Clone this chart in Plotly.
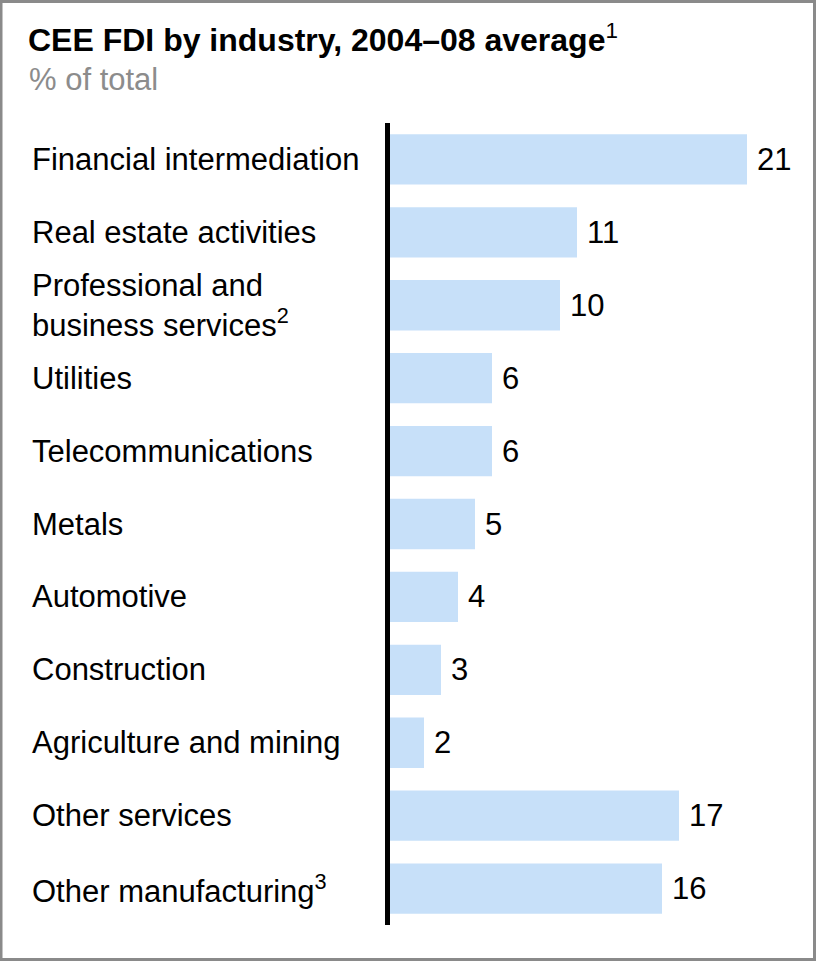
import plotly.graph_objects as go

# Industry shares of CEE foreign direct investment, 2004-08 average (% of total)
industries = [
    "Financial intermediation",
    "Real estate activities",
    "Professional and business services",
    "Utilities",
    "Telecommunications",
    "Metals",
    "Automotive",
    "Construction",
    "Agriculture and mining",
    "Other services",
    "Other manufacturing",
]
label_text = [
    "Financial intermediation",
    "Real estate activities",
    "Professional and<br>business services<sup>2</sup>",
    "Utilities",
    "Telecommunications",
    "Metals",
    "Automotive",
    "Construction",
    "Agriculture and mining",
    "Other services",
    "Other manufacturing<sup>3</sup>",
]
shares = [21, 11, 10, 6, 6, 5, 4, 3, 2, 17, 16]

W_FIG, H_FIG = 816, 961
L, R_M, T, B = 390, 26, 123, 36
PW = W_FIG - L - R_M
PH = H_FIG - T - B
FONT = "Arial, Liberation Sans, sans-serif"
FS = 31


def px_x(p):
    return (p - L) / PW


def px_y(p):
    return (H_FIG - B - p) / PH


fig = go.Figure(
    go.Bar(
        x=shares,
        y=industries,
        orientation="h",
        marker=dict(color="#C7E0F9", line=dict(width=0)),
        hoverinfo="skip",
    )
)

annotations = []
# category labels, left aligned
for name, txt in zip(industries, label_text):
    annotations.append(dict(
        x=px_x(30), xref="paper", y=name, yref="y",
        text=txt, showarrow=False, xanchor="left", yanchor="middle",
        align="left", font=dict(family=FONT, size=FS, color="#000000"),
    ))
# value labels at the bar ends
for name, v in zip(industries, shares):
    annotations.append(dict(
        x=v, xref="x", y=name, yref="y", text=str(v), showarrow=False,
        xanchor="left", yanchor="middle", xshift=8,
        font=dict(family=FONT, size=FS, color="#000000"),
    ))
# title and unit line
annotations.append(dict(
    x=px_x(26), xref="paper", y=px_y(38), yref="paper",
    text="<b>CEE FDI by industry, 2004–08 average</b><sup>1</sup>",
    showarrow=False, xanchor="left", yanchor="middle",
    font=dict(family=FONT, size=32, color="#000000"),
))
annotations.append(dict(
    x=px_x(27), xref="paper", y=px_y(79), yref="paper",
    text="% of total", showarrow=False, xanchor="left", yanchor="middle",
    font=dict(family=FONT, size=FS, color="#8C8C8C"),
))

fig.update_layout(
    width=W_FIG, height=H_FIG,
    margin=dict(l=L, r=R_M, t=T, b=B, pad=0),
    paper_bgcolor="white", plot_bgcolor="white",
    showlegend=False, bargap=0.31,
    xaxis=dict(visible=False, range=[0, PW / 17.0], fixedrange=True),
    yaxis=dict(
        categoryorder="array", categoryarray=industries,
        range=[len(industries) - 0.5, -0.5],
        showticklabels=False, ticks="", showgrid=False, zeroline=False,
        showline=True, linewidth=5, linecolor="#000000",
    ),
    annotations=annotations,
    shapes=[dict(
        type="rect", xref="paper", yref="paper",
        x0=px_x(1), x1=px_x(814.5), y0=px_y(1.5), y1=px_y(959.5),
        line=dict(color="#8A8A8A", width=3), fillcolor="rgba(0,0,0,0)",
        layer="above",
    )],
)

fig.write_html("out.html")
